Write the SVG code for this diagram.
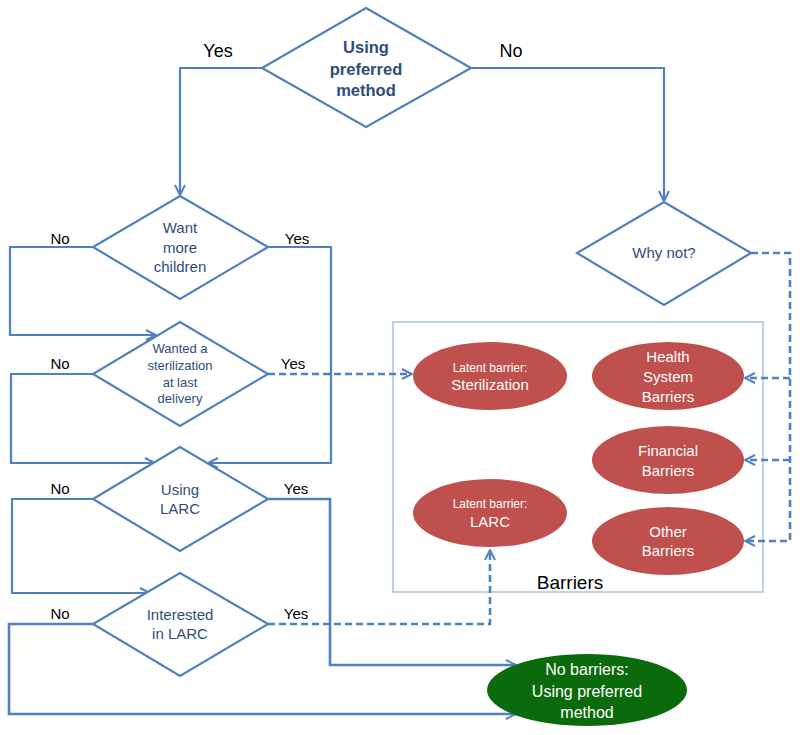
<svg xmlns="http://www.w3.org/2000/svg" width="800" height="735" viewBox="0 0 800 735">
<style>
.dia{fill:#fff;stroke:#4F81BD;stroke-width:2.2}
.ln{fill:none;stroke:#4F81BD;stroke-width:2.2}
.thk{stroke-width:2.6}
.dash{fill:none;stroke:#4F81BD;stroke-width:2.6;stroke-dasharray:7,4}
.dt{font-family:"Liberation Sans",Arial,sans-serif;fill:#2E4D7B;text-anchor:middle}
.lbl{font-family:"Liberation Sans",Arial,sans-serif;fill:#000;text-anchor:middle;font-size:15px}
.red{fill:#C0504D}
.wt{font-family:"Liberation Sans",Arial,sans-serif;fill:#fff;text-anchor:middle}
</style>
<defs>
<marker id="ar" viewBox="0 0 12 12" refX="11" refY="6" markerWidth="12" markerHeight="12" markerUnits="userSpaceOnUse" orient="auto">
<path d="M1,1 L11,6 L1,11" fill="none" stroke="#4F81BD" stroke-width="2"/>
</marker>
</defs>

<g id="barriers-box">
<rect x="393" y="322" width="370" height="270" fill="none" stroke="#95B3D7" stroke-width="1.2"/>
<text x="570" y="589" class="lbl" style="font-size:19px">Barriers</text>
</g>

<g id="connectors">
<polyline class="ln" points="262,68 180,68 180,195" marker-end="url(#ar)"/>
<polyline class="ln" points="471,68 664,68 664,201" marker-end="url(#ar)"/>
<polyline class="ln" points="93,247 10,247 10,335 156,335" marker-end="url(#ar)"/>
<polyline class="ln" points="268,247 331,247 331,463 208,463" marker-end="url(#ar)"/>
<polyline class="ln" points="93,374 11,374 11,463 155,463" marker-end="url(#ar)"/>
<polyline class="dash" points="268,374 412,374" marker-end="url(#ar)"/>
<polyline class="ln" points="93,499 12,499 12,593 150,593" marker-end="url(#ar)"/>
<polyline class="ln thk" points="268,499 330,499 330,665 516,665" marker-end="url(#ar)"/>
<polyline class="ln thk" points="93,624 9,624 9,714 516,714" marker-end="url(#ar)"/>
<polyline class="dash" points="268,624 490,624 490,550" marker-end="url(#ar)"/>
<polyline class="dash" points="751,253 790,253 790,541 745,541" marker-end="url(#ar)"/>
<polyline class="dash" points="790,378 745,378" marker-end="url(#ar)"/>
<polyline class="dash" points="790,460 745,460" marker-end="url(#ar)"/>
<text x="218" y="57" class="lbl" style="font-size:18px">Yes</text>
<text x="511" y="57" class="lbl" style="font-size:18px">No</text>
<text x="60" y="244" class="lbl">No</text>
<text x="297" y="244" class="lbl">Yes</text>
<text x="60" y="369" class="lbl">No</text>
<text x="293" y="369" class="lbl">Yes</text>
<text x="60" y="494" class="lbl">No</text>
<text x="296" y="494" class="lbl">Yes</text>
<text x="60" y="619" class="lbl">No</text>
<text x="296" y="619" class="lbl">Yes</text>
</g>

<g id="using-preferred">
<polygon class="dia" points="366,8 471,68 366,127 262,68"/>
<text class="dt" style="font-size:16.5px;font-weight:bold" x="366" y="53">Using</text>
<text class="dt" style="font-size:16.5px;font-weight:bold" x="366" y="75">preferred</text>
<text class="dt" style="font-size:16.5px;font-weight:bold" x="366" y="96">method</text>
</g>

<g id="want-more">
<polygon class="dia" points="180,196 268,247 180,299 93,247"/>
<text class="dt" style="font-size:15px" x="180" y="233">Want</text>
<text class="dt" style="font-size:15px" x="180" y="253">more</text>
<text class="dt" style="font-size:15px" x="180" y="272">children</text>
</g>

<g id="wanted-sterilization">
<polygon class="dia" points="180,322 268,374 180,426 93,374"/>
<text class="dt" style="font-size:13px" x="180" y="353">Wanted a</text>
<text class="dt" style="font-size:13px" x="180" y="370">sterilization</text>
<text class="dt" style="font-size:13px" x="180" y="387">at last</text>
<text class="dt" style="font-size:13px" x="180" y="403">delivery</text>
</g>

<g id="using-larc">
<polygon class="dia" points="180,447 268,499 180,551 93,499"/>
<text class="dt" style="font-size:15px" x="180" y="495">Using</text>
<text class="dt" style="font-size:15px" x="180" y="514">LARC</text>
</g>

<g id="interested-larc">
<polygon class="dia" points="180,573 268,624 180,676 93,624"/>
<text class="dt" style="font-size:15px" x="180" y="620">Interested</text>
<text class="dt" style="font-size:15px" x="180" y="639">in LARC</text>
</g>

<g id="why-not">
<polygon class="dia" points="664,202 751,253 664,305 577,253"/>
<text class="dt" style="font-size:15px" x="664" y="258">Why not?</text>
</g>

<g id="latent-sterilization">
<ellipse class="red" cx="490" cy="376" rx="77" ry="34"/>
<text class="wt" style="font-size:12px" x="490" y="372">Latent barrier:</text>
<text class="wt" style="font-size:15px" x="490" y="390">Sterilization</text>
</g>

<g id="health-system">
<ellipse class="red" cx="668" cy="376" rx="76" ry="34"/>
<text class="wt" style="font-size:15px" x="668" y="362">Health</text>
<text class="wt" style="font-size:15px" x="668" y="382">System</text>
<text class="wt" style="font-size:15px" x="668" y="402">Barriers</text>
</g>

<g id="financial">
<ellipse class="red" cx="668" cy="460" rx="76" ry="34"/>
<text class="wt" style="font-size:15px" x="668" y="456">Financial</text>
<text class="wt" style="font-size:15px" x="668" y="476">Barriers</text>
</g>

<g id="latent-larc">
<ellipse class="red" cx="490" cy="513" rx="77" ry="34"/>
<text class="wt" style="font-size:12px" x="490" y="508">Latent barrier:</text>
<text class="wt" style="font-size:15px" x="490" y="527">LARC</text>
</g>

<g id="other">
<ellipse class="red" cx="668" cy="541" rx="76" ry="34"/>
<text class="wt" style="font-size:15px" x="668" y="537">Other</text>
<text class="wt" style="font-size:15px" x="668" y="556">Barriers</text>
</g>

<g id="no-barriers">
<ellipse cx="587" cy="690" rx="100" ry="36" fill="#0B6A0B"/>
<text class="wt" style="font-size:16px" x="587" y="675">No barriers:</text>
<text class="wt" style="font-size:16px" x="587" y="697">Using preferred</text>
<text class="wt" style="font-size:16px" x="587" y="718">method</text>
</g>
</svg>
